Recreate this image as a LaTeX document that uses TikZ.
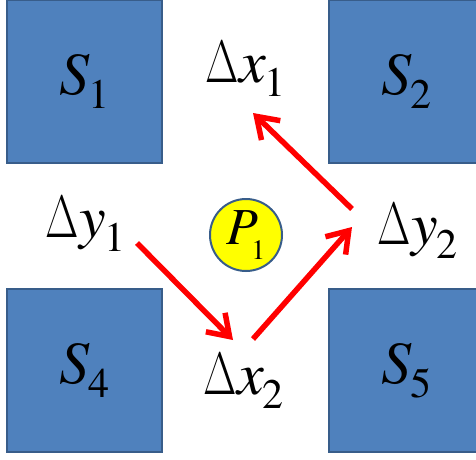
\documentclass[tikz,border=0pt]{standalone}
\usepackage{fontspec}
\setmainfont{texgyretermes}[Extension=.otf, UprightFont=*-regular, ItalicFont=*-italic, BoldFont=*-bold]
\newfontfamily\lmfont{Latin Modern Roman}
\usetikzlibrary{arrows.meta}
\definecolor{myblue}{RGB}{79,129,189}
\definecolor{myborder}{RGB}{56,93,138}
\definecolor{myyellow}{RGB}{255,255,0}
\definecolor{myred}{RGB}{255,0,0}
\newcommand{\bigtxt}{\fontsize{60}{60}\selectfont}
\newcommand{\dlt}{\scalebox{0.72}[1]{\lmfont Δ}\kern1pt}
\newcommand{\idx}[1]{\kern-2pt\raisebox{-14pt}{\fontsize{42}{42}\selectfont #1}}
\newcommand{\pidx}[1]{\kern-7pt\raisebox{-15pt}{\fontsize{28}{28}\selectfont #1}}
\tikzset{
  sq/.style={rectangle, draw=myborder, fill=myblue, line width=2pt,
    minimum width=155pt, minimum height=163pt, inner sep=0pt, font=\bigtxt},
  dlabel/.style={anchor=base west, inner sep=0pt, font=\bigtxt},
  pnode/.style={circle, draw=myborder, fill=myyellow, line width=2pt,
    minimum size=72pt, inner sep=0pt, font=\fontsize{52}{52}\selectfont},
  redarrow/.style={-{Straight Barb[length=20pt, width=27pt]}, line width=5.5pt, color=myred}
}

\begin{document}
\begin{tikzpicture}[x=1pt, y=-1pt]
  \useasboundingbox (0,0) rectangle (476,459);
  \clip (0,0) rectangle (476,459);

  % Squares
  \node[sq] (s1) at (84.5,81.5) {\textit{S}\idx{1}};
  \node[sq] (s2) at (406.5,81.5) {\textit{S}\idx{2}};
  \node[sq] (s4) at (84.5,370.5) {\textit{S}\idx{4}};
  \node[sq] (s5) at (406.5,370.5) {\textit{S}\idx{5}};

  % Displacements
  \node[dlabel] (dx1) at (205,82) {\dlt\textit{x}\idx{1}};
  \node[dlabel] (dy1) at (45,237) {\dlt\textit{y}\idx{1}};
  \node[dlabel] (dy2) at (377,244) {\dlt\textit{y}\idx{2}};
  \node[dlabel] (dx2) at (203,394) {\dlt\textit{x}\idx{2}};

  % Point
  \node[pnode] (p1) at (246,235) {\textit{P}\pidx{1}};

  % Arrow ends
  \coordinate (a1s) at (137,243);
  \coordinate (a1e) at (233,340);
  \coordinate (a2s) at (253,339);
  \coordinate (a2e) at (352,227);
  \coordinate (a3s) at (352,209);
  \coordinate (a3e) at (253,113);

  \draw[redarrow] (a1s) -- (a1e);
  \draw[redarrow] (a2s) -- (a2e);
  \draw[redarrow] (a3s) -- (a3e);
\end{tikzpicture}
\end{document}
